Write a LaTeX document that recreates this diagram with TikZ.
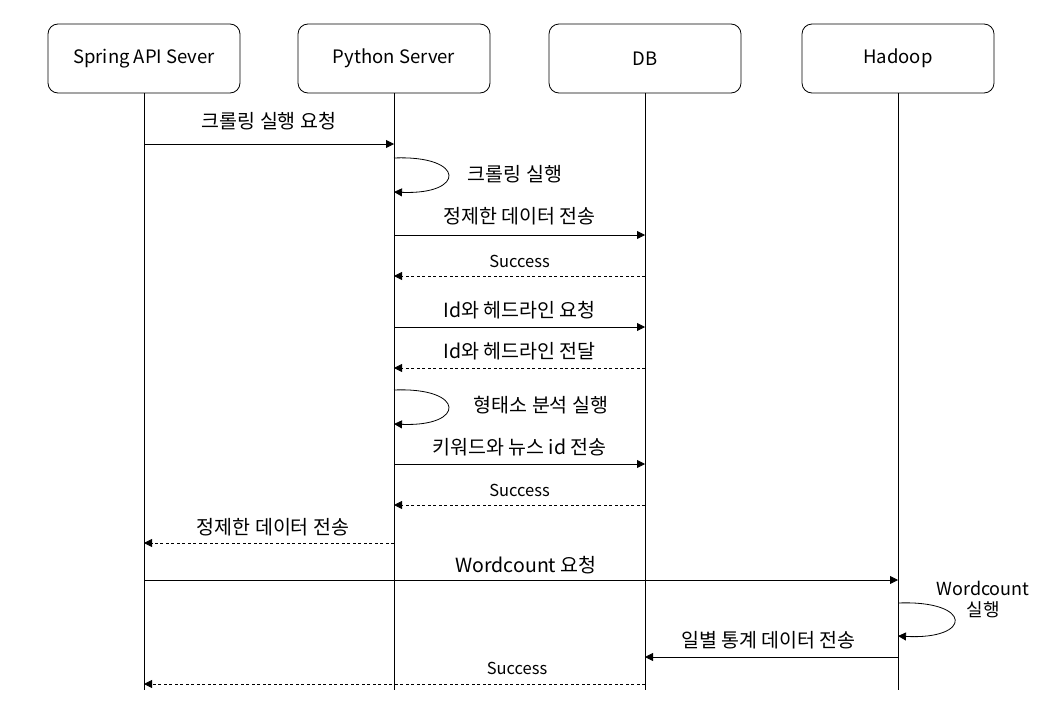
\documentclass[tikz,border=0pt]{standalone}
\usepackage{fontspec}
\setmainfont{Noto Sans CJK KR}
\usetikzlibrary{arrows.meta}

\tikzset{
  party/.style = {draw, rounded corners = 10pt, minimum width = 192pt, minimum height = 69pt, font = \fontsize{18.5}{22}\selectfont, line width = 0.8pt},
  life/.style = {line width = 0.8pt},
  call/.style = {line width = 0.8pt, -{Triangle[length = 8pt, width = 8pt]}},
  reply/.style = {call, dash pattern = on 3pt off 2.5pt},
  txt/.style = {font = \fontsize{19.5}{23}\selectfont, inner sep = 0pt},
  small/.style = {font = \fontsize{16.5}{19}\selectfont, inner sep = 0pt}
}

\begin{document}
\begin{tikzpicture}[x = 1pt, y = -1pt]
		\useasboundingbox (0,0) rectangle (1040,720);
		%
		\node[party] (spring) at (144,58.5) {Spring API Sever};
		\node[party] (python) at (394,58.5) {Python Server};
		\node[party] (db)     at (645,58.5) {DB};
		\node[party] (hadoop) at (898,58.5) {Hadoop};
		%
		\foreach \p in {spring, python, db, hadoop}
			\draw[life] (\p.south) -- (\p.south |- 0,690);
		%
		\draw[call] (spring.south |- 0,144) -- (python.south |- 0,144) node[txt, midway, yshift = 23pt] {크롤링 실행 요청};
		\draw[call] (python.south |- 0,158) .. controls (466,155) and (466,195) .. (python.south |- 0,192);
		\node[txt] (crawl) at (515,174) {크롤링 실행};
		%
		\draw[call] (python.south |- 0,235) -- (db.south |- 0,235) node[txt, midway, yshift = 19pt] {정제한 데이터 전송};
		\draw[reply] (db.south |- 0,276) -- (python.south |- 0,276) node[small, midway, yshift = 15pt] {Success};
		%
		\draw[call] (python.south |- 0,327) -- (db.south |- 0,327) node[txt, midway, yshift = 17pt] {Id와 헤드라인 요청};
		\draw[reply] (db.south |- 0,368) -- (python.south |- 0,368) node[txt, midway, yshift = 17pt] {Id와 헤드라인 전달};
		%
		\draw[call] (python.south |- 0,390) .. controls (466,387) and (466,427) .. (python.south |- 0,424);
		\node[txt] (morph) at (541,405) {형태소 분석 실행};
		%
		\draw[call] (python.south |- 0,464) -- (db.south |- 0,464) node[txt, midway, yshift = 17pt] {키워드와 뉴스 id 전송};
		\draw[reply] (db.south |- 0,505) -- (python.south |- 0,505) node[small, midway, yshift = 15pt] {Success};
		\draw[reply] (python.south |- 0,543) -- (spring.south |- 0,543) node[txt, midway, yshift = 16pt, xshift = 4pt] {정제한 데이터 전송};
		%
		\draw[call] (spring.south |- 0,580) -- (hadoop.south |- 0,580) node[txt, midway, yshift = 15pt, xshift = 5pt] {Wordcount 요청};
		\draw[call] (hadoop.south |- 0,603) .. controls (973,600) and (973,640) .. (hadoop.south |- 0,636);
		\node[txt, font = \fontsize{18}{21}\selectfont, align = center] (wc) at (983,600) {Wordcount\\실행};
		%
		\draw[call] (hadoop.south |- 0,657) -- (db.south |- 0,657) node[txt, midway, yshift = 17pt, xshift = -3pt] {일별 통계 데이터 전송};
		\draw[reply] (db.south |- 0,684) -- (spring.south |- 0,684);
		\node[small] (done) at (517,668) {Success};
		%
	\end{tikzpicture}
\end{document}
